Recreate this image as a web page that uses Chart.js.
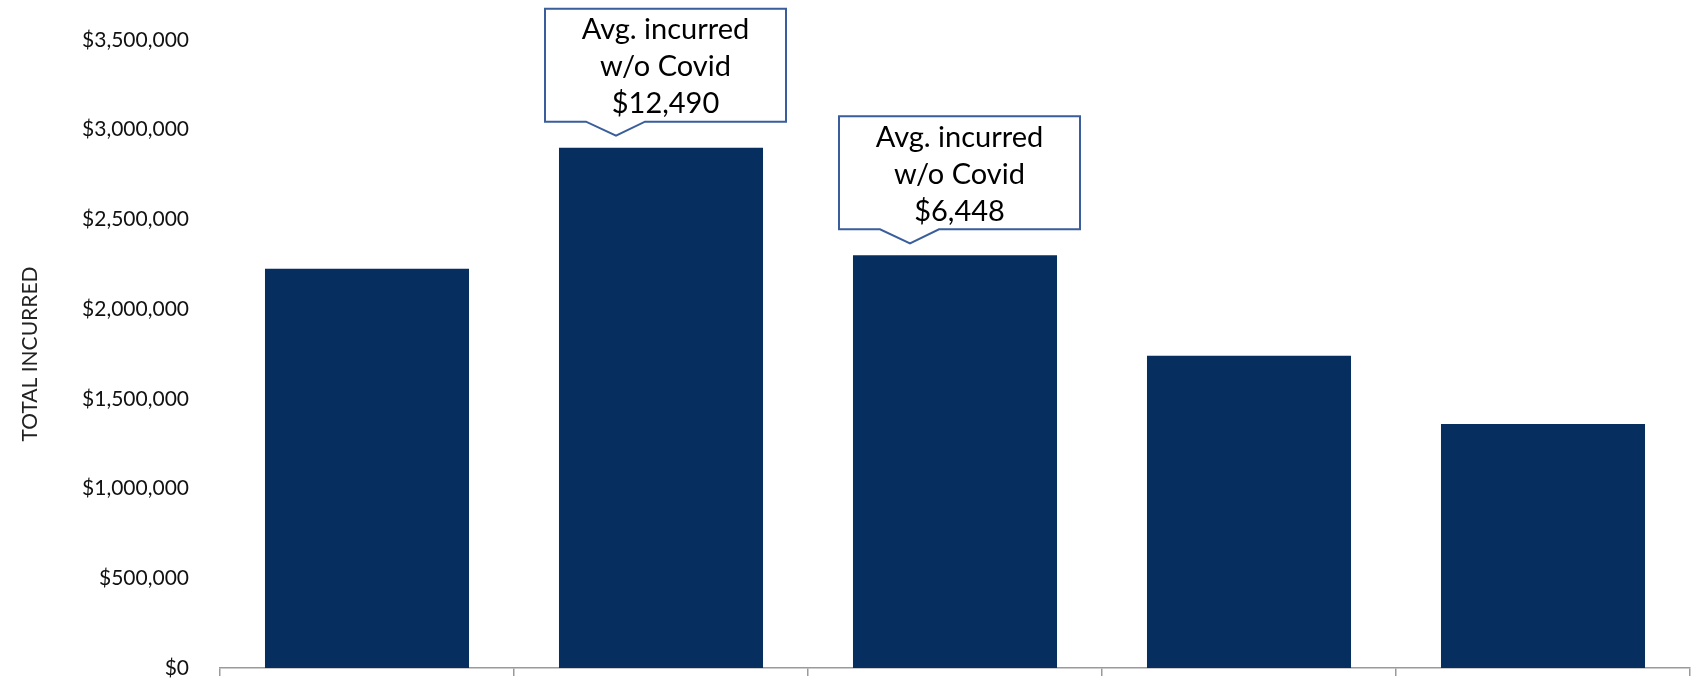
<!DOCTYPE html>
<html>
<head>
<meta charset="utf-8">
<title>Total incurred</title>
<script src="https://cdn.jsdelivr.net/npm/chart.js@4.4.1/dist/chart.umd.min.js"></script>
<style>
  html, body { margin: 0; padding: 0; background: #fff; }
  #incurredChart { display: block; }
</style>
</head>
<body>
<canvas id="incurredChart" width="1701" height="682"></canvas>
<script>
'use strict';

// Five periods, no category labels shown under the axis
const periods = ['P1', 'P2', 'P3', 'P4', 'P5'];
const totalIncurred = [2225000, 2900000, 2300000, 1740000, 1360000];
// Average incurred per claim excluding Covid, only called out for two periods
const avgWithoutCovid = [null, 12490, 6448, null, null];
const calloutHeading = ['Avg. incurred', 'w/o Covid'];

const yMin = 0;
const yMax = 3500000;
const yStep = 500000;

const navy = '#062E5E';
const axisGray = '#9a9a9a';
const calloutBlue = '#3A5E9B';

const money = v => '$' + Math.round(v).toLocaleString('en-US');

// Speech-bubble boxes pointing at the bars that carry an average
const calloutPlugin = {
    id: 'callouts',
    afterDatasetsDraw(chart) {
        const ctx = chart.ctx;
        const bars = chart.getDatasetMeta(0).data;
        avgWithoutCovid.forEach((avg, i) => {
            if (avg == null || !bars[i]) return;
            const bar = bars[i];
            const tipX = bar.x - 45;
            const tipY = bar.y - 12;
            const w = 241, h = 113;
            const left = tipX - 71;
            const bottom = tipY - 14;
            const top = bottom - h;

            ctx.save();
            ctx.beginPath();
            ctx.moveTo(left, top);
            ctx.lineTo(left + w, top);
            ctx.lineTo(left + w, bottom);
            ctx.lineTo(tipX + 29, bottom);
            ctx.lineTo(tipX, tipY);
            ctx.lineTo(tipX - 30, bottom);
            ctx.lineTo(left, bottom);
            ctx.closePath();
            ctx.fillStyle = '#fff';
            ctx.fill();
            ctx.lineWidth = 2;
            ctx.strokeStyle = calloutBlue;
            ctx.stroke();

            const lines = calloutHeading.concat([money(avg)]);
            ctx.fillStyle = '#000';
            ctx.font = '29px Lato';
            ctx.textAlign = 'center';
            ctx.textBaseline = 'middle';
            lines.forEach((t, k) => ctx.fillText(t, left + w / 2, top + 21 + k * 37));
            ctx.restore();
        });
    }
};

function createChart() {
    const ctx = document.getElementById('incurredChart').getContext('2d');
    return new Chart(ctx, {
        type: 'bar',
        data: {
            labels: periods,
            datasets: [{
                label: 'Total incurred',
                data: totalIncurred,
                backgroundColor: navy,
                borderWidth: 0,
                categoryPercentage: 1,
                barPercentage: 0.694
            }]
        },
        options: {
            responsive: false,
            animation: false,
            layout: { padding: { top: 40, right: 11, bottom: 0, left: 0 } },
            plugins: {
                legend: { display: false },
                tooltip: { enabled: false }
            },
            scales: {
                x: {
                    offset: true,
                    afterFit: scale => { scale.height = 14; },
                    ticks: { display: false },
                    border: { display: true, color: axisGray, width: 1.5 },
                    grid: {
                        offset: true,
                        drawOnChartArea: false,
                        drawTicks: true,
                        tickLength: 8,
                        color: axisGray,
                        lineWidth: 1.5
                    }
                },
                y: {
                    min: yMin,
                    max: yMax,
                    afterFit: scale => {
                        // fixed gutter for labels; don't let label padding shrink the plot
                        scale.width = 220;
                        scale.paddingTop = 0;
                        scale.paddingBottom = 0;
                    },
                    ticks: {
                        stepSize: yStep,
                        padding: 23,
                        color: '#111',
                        font: { family: 'Lato', size: 21 },
                        callback: v => money(v)
                    },
                    border: { display: false },
                    grid: { display: false },
                    title: {
                        display: true,
                        text: 'TOTAL INCURRED',
                        color: '#222',
                        font: { family: 'Lato', size: 21 },
                        padding: { top: 18, bottom: 0 }
                    }
                }
            }
        },
        plugins: [calloutPlugin]
    });
}

function init() {
    const ready = document.fonts && document.fonts.load
        ? Promise.all([document.fonts.load('21px Lato'), document.fonts.load('29px Lato')]).catch(() => {})
        : Promise.resolve();
    ready.then(createChart);
}

if (document.readyState === 'loading') {
    document.addEventListener('DOMContentLoaded', init);
} else {
    init();
}
</script>
</body>
</html>
